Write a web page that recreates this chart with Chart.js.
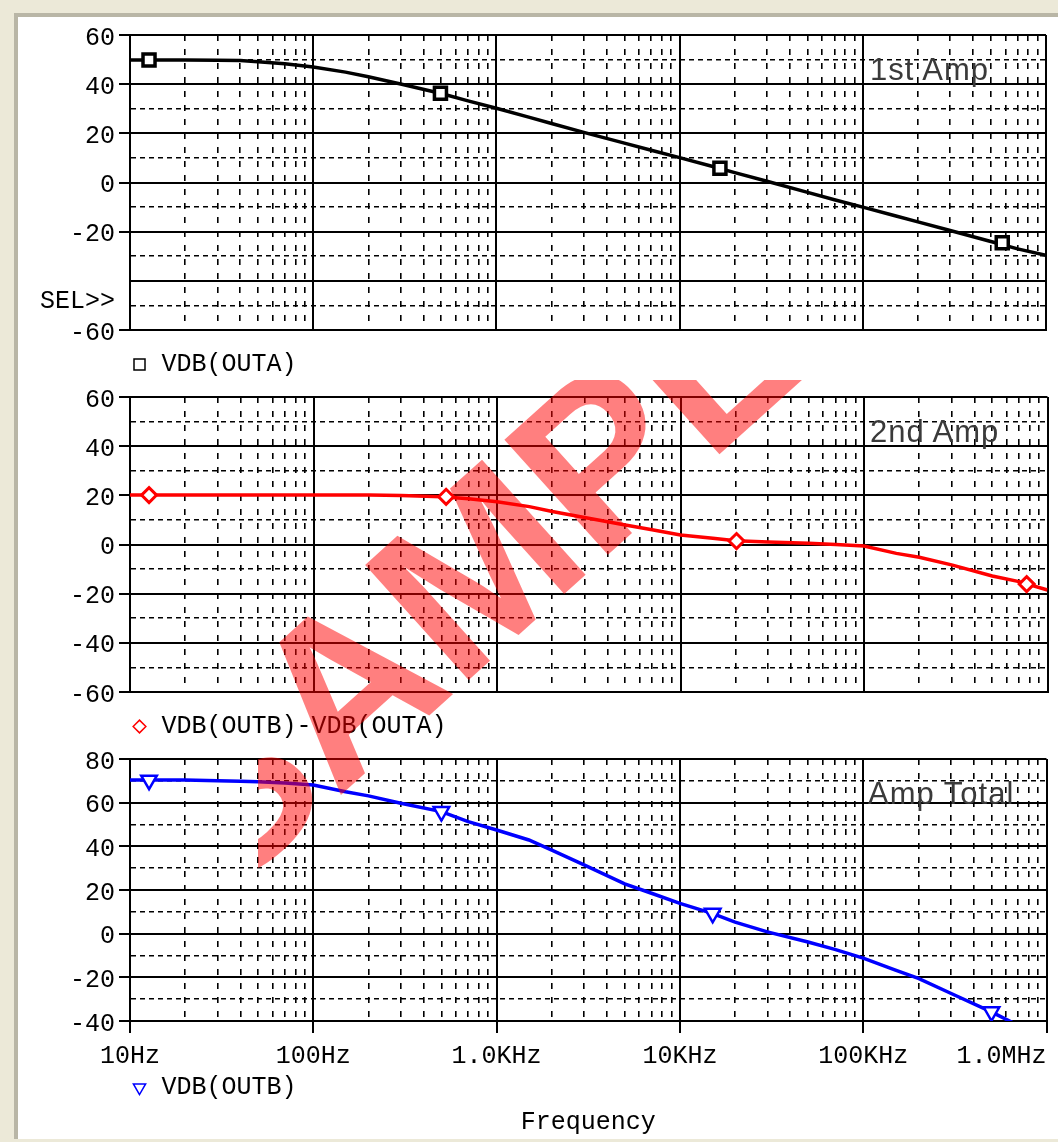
<!DOCTYPE html>
<html lang="en">
<head>
<meta charset="utf-8">
<title>VDB</title>
<script src="https://cdn.jsdelivr.net/npm/chart.js@4.4.1/dist/chart.umd.min.js"></script>
<style>
  html, body { margin: 0; padding: 0; }
  body { position: relative; width: 1058px; height: 1142px; overflow: hidden; background: #ece9d8; }
  #hoja { position: absolute; left: 14px; top: 13px; right: 0; bottom: 3px; background: #fff;
          border-left: 4px solid #b9b6a6; border-top: 4px solid #b9b6a6; }
  canvas { position: absolute; left: 0; }
  .rotulo { position: absolute; font: 31px "Liberation Sans", Arial, sans-serif; line-height: 1;
            color: #3a3a3a; letter-spacing: 1px; white-space: nowrap; }
  #marca { position: absolute; left: 258px; top: 380px; width: 800px; height: 762px; overflow: hidden; pointer-events: none; }
  #marca span { position: absolute; transform-origin: 0 0; transform: rotate(-42deg);
                font: bold 225px "Liberation Sans", Arial, sans-serif; line-height: 1;
                color: rgba(255, 0, 0, 0.5); white-space: nowrap; }
</style>
</head>
<body>
<div id="hoja"></div>
<canvas id="g1" width="1058" height="367" style="top:20px"></canvas>
<canvas id="g2" width="1058" height="367" style="top:382px"></canvas>
<canvas id="g3" width="1058" height="391" style="top:744px"></canvas>
<div class="rotulo" style="left:870px;top:54px">1st Amp</div>
<div class="rotulo" style="left:870px;top:416px">2nd Amp</div>
<div class="rotulo" style="left:868px;top:778px">Amp Total</div>
<div id="marca"><span style="left:-160px;top:378px">SAMPLE</span></div>
<script>
const fuente = "'Liberation Mono', 'DejaVu Sans Mono', monospace";

// frecuencias (Hz) donde se leyeron las trazas
const freqs = [10, 20, 30, 40, 50, 70, 100, 150, 200, 300, 500, 700, 1000, 1500, 2000, 3000, 5000, 7000,
               10000, 15000, 20000, 30000, 50000, 70000, 100000, 150000, 200000, 300000, 500000, 700000, 1000000];
const vdbOutA = [49.8, 49.8, 49.7, 49.6, 49.1, 48.3, 47.0, 44.9, 43.0, 40.1, 36.2, 33.2, 30.2, 26.6, 24.0, 20.4, 16.0, 13.1,
                 10.1, 6.6, 4.0, 0.5, -4.0, -7.0, -10.0, -13.5, -16.0, -19.5, -24.0, -27.0, -29.6];
const vdbDiff = [20.1, 20.1, 20.1, 20.1, 20.1, 20.1, 20.1, 20.1, 20.1, 19.9, 19.4, 18.6, 17.4, 15.4, 13.4, 11.0, 7.9, 6.0,
                 3.9, 2.5, 1.5, 1.0, 0.5, 0.0, -0.6, -3.6, -5.2, -8.3, -12.8, -15.1, -18.5];
const vdbOutB = [70.4, 70.4, 70.0, 69.8, 69.6, 69.0, 68.1, 65.0, 63.1, 59.7, 55.9, 51.3, 47.5, 42.9, 38.3, 31.5, 22.8, 18.5,
                 13.9, 9.3, 5.3, 0.8, -3.8, -7.2, -11.2, -16.7, -20.5, -27.3, -35.8, -42.0, -48.0];

// marcadores de PSpice sobre cada traza
const marcaFreqA = [12.7, 495, 16600, 577000];
const marcaValA = [49.8, 36.3, 5.8, -24.5];
const marcaFreqDiff = [12.7, 528, 20200, 770000];
const marcaValDiff = [20.1, 19.4, 1.4, -16.1];
const marcaFreqB = [12.7, 500, 15100, 501000];
const marcaValB = [70.3, 55.9, 9.3, -35.8];

const decadas = [10, 100, 1e3, 1e4, 1e5, 1e6];
const etiquetasDecada = ['10Hz', '100Hz', '1.0KHz', '10KHz', '100KHz', '1.0MHz'];
const etiquetasDb1 = [60, 40, 20, 0, -20, -60];
const etiquetasDb2 = [60, 40, 20, 0, -20, -40, -60];
const etiquetasDb3 = [80, 60, 40, 20, 0, -20, -40];
const SEL = -47; // hueco donde PSpice escribe "SEL>>"

const transparente = 'rgba(0,0,0,0)';
const lineasLog = decadas.slice(0, -1).flatMap(d => [1, 2, 3, 4, 5, 6, 7, 8, 9].map(k => k * d)).concat(decadas.slice(-1));
const esDecada = v => decadas.includes(v);

function ejeX(conEtiquetas, alto) {
    return {
        type: 'logarithmic', min: 10, max: 1e6,
        afterBuildTicks: s => { s.ticks = lineasLog.map(v => ({ value: v })); },
        afterFit: s => { s.height = alto; s.paddingLeft = 0; s.paddingRight = 0; },
        grid: {
            color: '#000',
            lineWidth: c => c.tick && esDecada(c.tick.value) ? 2 : 1.6,
            drawTicks: conEtiquetas,
            tickLength: 12, tickWidth: 2,
            tickColor: c => c.tick && esDecada(c.tick.value) ? '#000' : transparente
        },
        border: { color: '#000', width: 2, dash: c => c.tick && !esDecada(c.tick.value) ? [6, 8] : [] },
        ticks: {
            display: conEtiquetas, autoSkip: false, maxRotation: 0, minRotation: 0, padding: 8,
            color: '#000', font: { family: fuente, size: 25 },
            callback: (v, i, t) => {
                const k = decadas.indexOf(v);
                if (k < 0) return '';
                const txt = etiquetasDecada[k];
                // la última va pegada al borde derecho, como en PSpice
                return i === t.length - 1 ? txt + ' '.repeat(txt.length) : txt;
            }
        }
    };
}

function ejeY(min, max, etiquetas, conSel) {
    const lleno = v => v % 20 === 0;
    return {
        min, max,
        afterBuildTicks: s => {
            const vals = [];
            for (let v = min; v <= max; v += 10) vals.push(v);
            if (conSel) vals.push(SEL);
            s.ticks = vals.sort((a, b) => a - b).map(v => ({ value: v }));
        },
        afterFit: s => { s.width = 130; s.paddingTop = 0; s.paddingBottom = 0; },
        grid: {
            color: c => c.tick && c.tick.value === SEL ? transparente : '#000',
            lineWidth: c => c.tick && lleno(c.tick.value) ? 2 : 1.6,
            tickLength: 11, tickWidth: 2,
            tickColor: c => c.tick && etiquetas.includes(c.tick.value) ? '#000' : transparente
        },
        border: { color: '#000', width: 2, dash: c => c.tick && !lleno(c.tick.value) && c.tick.value !== SEL ? [5, 4] : [] },
        ticks: {
            autoSkip: false, padding: 4, labelOffset: 3, color: '#000', font: { family: fuente, size: 25 },
            callback: v => v === SEL ? 'SEL>>' : (etiquetas.includes(v) ? String(v) : '')
        }
    };
}

function grafica(id, c) {
    return new Chart(document.getElementById(id), {
        type: 'line',
        data: {
            datasets: [
                {
                    label: c.nombre,
                    data: c.marcaF.map((f, i) => ({ x: f, y: c.marcaV[i] })),
                    showLine: false,
                    pointStyle: c.simbolo, pointRotation: c.giro || 0, pointRadius: c.radio,
                    pointBorderWidth: c.trazo, pointBorderColor: c.color, pointBackgroundColor: '#fff',
                    borderColor: c.color, backgroundColor: '#fff'
                },
                {
                    label: '',
                    data: freqs.map((f, i) => ({ x: f, y: c.valores[i] })),
                    borderColor: c.color, borderWidth: 3.5, pointRadius: 0, tension: 0, fill: false
                }
            ]
        },
        options: {
            responsive: false, animation: false, events: [],
            layout: { padding: { top: 15, right: 8, bottom: 0, left: 0 } },
            scales: { x: ejeX(c.conX, c.altoX), y: ejeY(c.min, c.max, c.etiquetas, c.sel) },
            plugins: {
                tooltip: { enabled: false },
                legend: {
                    position: 'bottom', align: 'start', fullSize: false,
                    labels: {
                        usePointStyle: true, boxWidth: 19, boxHeight: c.caja, padding: 0,
                        color: '#000', font: { family: fuente, size: 25 },
                        generateLabels: ch => Chart.defaults.plugins.legend.labels.generateLabels(ch)
                            .filter(it => it.text)
                            .map(it => Object.assign(it, { lineWidth: 1.5 }))
                    }
                },
                title: {
                    display: !!c.titulo, text: c.titulo || '', position: 'bottom', fullSize: false, padding: 0,
                    color: '#000', font: { family: fuente, size: 25, weight: 'normal', lineHeight: 1 }
                }
            }
        }
    });
}

grafica('g1', { nombre: 'VDB(OUTA)', valores: vdbOutA, marcaF: marcaFreqA, marcaV: marcaValA,
    color: '#000', simbolo: 'rect', radio: 8.5, trazo: 3.5, caja: 11,
    min: -60, max: 60, etiquetas: etiquetasDb1, sel: true, conX: false, altoX: 22 });

grafica('g2', { nombre: 'VDB(OUTB)-VDB(OUTA)', valores: vdbDiff, marcaF: marcaFreqDiff, marcaV: marcaValDiff,
    color: '#ff0000', simbolo: 'rectRot', radio: 7.5, trazo: 3, caja: 9,
    min: -60, max: 60, etiquetas: etiquetasDb2, sel: false, conX: false, altoX: 22 });

grafica('g3', { nombre: 'VDB(OUTB)', valores: vdbOutB, marcaF: marcaFreqB, marcaV: marcaValB,
    color: '#0000ff', simbolo: 'triangle', giro: 180, radio: 9, trazo: 2.5, caja: 10,
    min: -40, max: 80, etiquetas: etiquetasDb3, sel: false, conX: true, altoX: 54, titulo: 'Frequency' });
</script>
</body>
</html>
